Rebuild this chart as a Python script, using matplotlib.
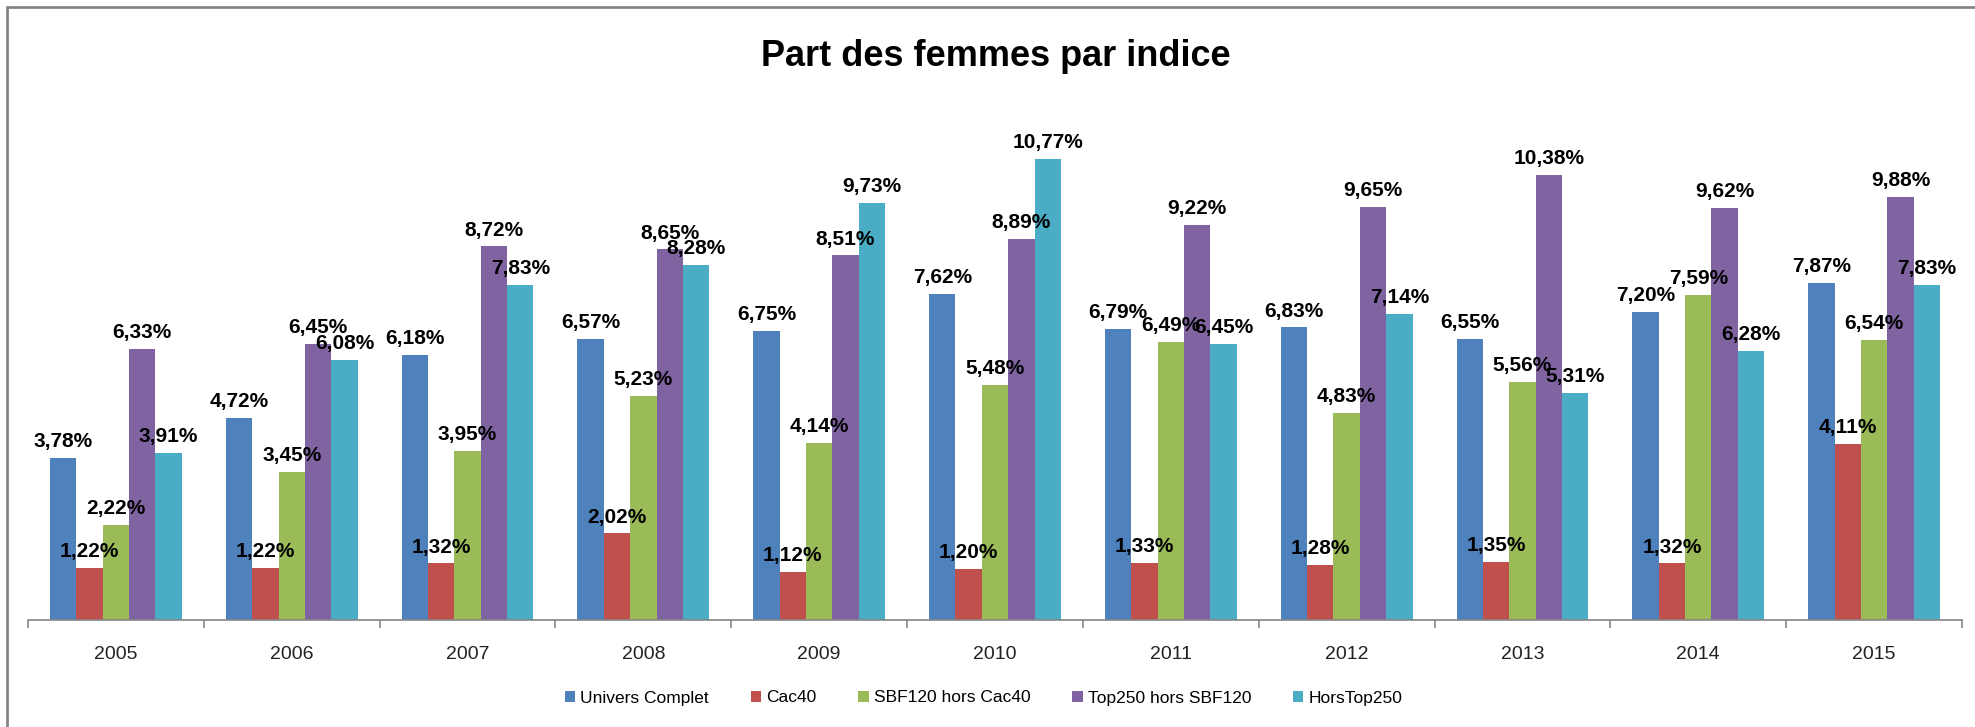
import matplotlib.pyplot as plt
from matplotlib.patches import Rectangle
import numpy as np

plt.rcParams['font.family'] = ['Liberation Sans', 'DejaVu Sans']

years = ['2005', '2006', '2007', '2008', '2009', '2010', '2011', '2012', '2013', '2014', '2015']
series = ['Univers Complet', 'Cac40', 'SBF120 hors Cac40', 'Top250 hors SBF120', 'HorsTop250']
univers = [3.78, 4.72, 6.18, 6.57, 6.75, 7.62, 6.79, 6.83, 6.55, 7.20, 7.87]
cac40 = [1.22, 1.22, 1.32, 2.02, 1.12, 1.20, 1.33, 1.28, 1.35, 1.32, 4.11]
sbf120 = [2.22, 3.45, 3.95, 5.23, 4.14, 5.48, 6.49, 4.83, 5.56, 7.59, 6.54]
top250 = [6.33, 6.45, 8.72, 8.65, 8.51, 8.89, 9.22, 9.65, 10.38, 9.62, 9.88]
hors250 = [3.91, 6.08, 7.83, 8.28, 9.73, 10.77, 6.45, 7.14, 5.31, 6.28, 7.83]
colors = ['#4F81BD', '#C0504D', '#9BBB59', '#8064A2', '#4BACC6']

data = [univers, cac40, sbf120, top250, hors250]

fig = plt.figure(figsize=(19.75, 7.27), dpi=100)
ax = fig.add_axes([28/1975, 1-620/727, (1962-28)/1975, 514/727])

x = np.arange(len(years))
w = 0.15
for i, (vals, name, c) in enumerate(zip(data, series, colors)):
    pos = x + (i - 2) * w
    bars = ax.bar(pos, vals, w, color=c, label=name, edgecolor='none')
    for b, v in zip(bars, vals):
        ax.annotate(f"{v:.2f}%".replace('.', ','),
                    (b.get_x() + b.get_width()/2, b.get_height()),
                    xytext=(0, 5), textcoords='offset points',
                    ha='center', va='bottom', fontsize=15, fontweight='bold')

ax.set_xlim(-0.5, len(years) - 0.5)
ax.set_ylim(0, 12)
ax.set_xticks(x)
ax.set_xticklabels(years, fontsize=14, color='#222222')
ax.set_xticks(np.arange(-0.5, len(years)), minor=True)
ax.tick_params(axis='x', which='major', length=0, pad=19)
ax.tick_params(axis='x', which='minor', length=6, color='#868686', width=1.2)
ax.set_yticks([])
for s in ['top', 'right', 'left']:
    ax.spines[s].set_visible(False)
ax.spines['bottom'].set_color('#868686')
ax.spines['bottom'].set_linewidth(1.2)

fig.text(0.504, 1-57/727, 'Part des femmes par indice', ha='center', va='center',
         fontsize=26, fontweight='bold')

fig.legend(loc='center', bbox_to_anchor=(0.498, 1-698/727), ncol=5, frameon=False,
           fontsize=12.5, handlelength=0.6, handleheight=0.6, handletextpad=0.3,
           columnspacing=2.4)

fig.patches.append(Rectangle((7/1975, -0.01), 1.0, 1-7/727+0.01, transform=fig.transFigure,
                             fill=False, edgecolor='#868686', linewidth=2))

fig.savefig('out.png', dpi=100)
